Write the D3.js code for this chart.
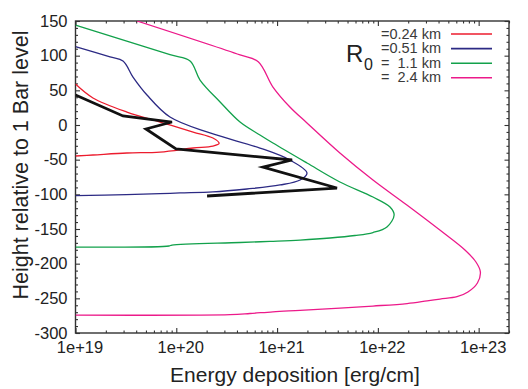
<!DOCTYPE html>
<html><head><meta charset="utf-8">
<script src="https://cdn.jsdelivr.net/npm/d3@7"></script>
<style>
body{margin:0;background:#fff}
svg{display:block}
text{font-family:"Liberation Sans",Arial,Helvetica,sans-serif}
</style>
</head><body>
<svg id="c" width="528" height="389"></svg>
<script>
// ---------- data ----------
const xTickValues = [1e19, 1e20, 1e21, 1e22, 1e23];
const xTickLabels = ["1e+19", "1e+20", "1e+21", "1e+22", "1e+23"];
const yTickValues = [150, 100, 50, 0, -50, -100, -150, -200, -250, -300];
const yTickLabels = ["150", "100", "50", "0", "-50", "-100", "-150", "-200", "-250", "-300"];
const legendLabels = ["=0.24 km", "=0.51 km", "=  1.1 km", "=  2.4 km"];

// R0 = 0.24 km
const r024E = [1e19, 1.49e19, 3.24e19, 6.9e19, 1.47e20, 2.31e20, 2.66e20, 2.31e20, 1.47e20, 6.9e19, 3.24e19, 1.49e19, 1e19];
const r024H = [59, 39, 18.7, 4.3, -10.1, -18.8, -26.5, -30.3, -33.2, -39, -40.4, -43.3, -44.7];
// R0 = 0.51 km
const r051E = [1e19, 2.2e19, 2.96e19, 3.72e19, 5.12e19, 8.66e19, 2.16e20, 6.76e20, 1.34e21, 1.98e21, 1.69e21, 1.07e21, 5.02e20, 2.31e20, 1.09e20, 6.89e19, 3.2e19, 1e19];
const r051H = [113, 98.1, 92.3, 69.2, 43.3, 11.5, -11.5, -33.2, -50.5, -69.2, -79.3, -86.5, -92.3, -96.6, -98, -99, -100.5, -102];
// R0 = 1.1 km
const r11E = [1e19, 8.66e19, 1.37e20, 1.72e20, 2.72e20, 4.29e20, 6.76e20, 9.1e20, 1.98e21, 4.2e21, 8.94e21, 1.32e22, 1.45e22, 1.23e22, 8.94e21, 5.92e21, 3.35e21, 1.69e21, 8.51e20, 4.29e20, 9.06e19, 8.48e19, 1e19];
const r11H = [144.2, 101.4, 92.3, 64.9, 33.2, 4.3, -14.4, -26, -54.8, -82.2, -103.9, -118.3, -129.8, -147.1, -155.1, -159.4, -163, -165.9, -167.8, -169.5, -173.1, -174.5, -176];
// R0 = 2.4 km
const r24E = [4.07e19, 4.29e20, 6.5e20, 9.1e20, 1.34e21, 1.98e21, 4.2e21, 8.94e21, 1.94e22, 4.12e22, 7.31e22, 9.4e22, 1.04e23, 9.72e22, 7.83e22, 6.1e22, 4.14e22, 3.08e22, 1.95e22, 8.94e21, 4.21e21, 1.69e21, 9.1e20, 5.38e20, 3.41e20, 1e19];
const r24H = [150, 101, 91.3, 54.8, 26, 2.9, -40.4, -79.3, -115.4, -151.5, -180.3, -197.6, -212, -227.9, -240.9, -247.7, -251, -253.6, -257.5, -261.1, -264, -267.3, -269.4, -271.9, -273.6, -274.2];
// observation (black)
const obsE = [1e19, 2.96e19, 9.06e19, 5.0e19, 9.93e19, 1.41e21, 7.24e20, 3.93e21, 2.02e20];
const obsH = [43.3, 13, 4.3, -5.8, -34.6, -50.5, -60.6, -90.9, -102.4];

// ---------- styles / layout ----------
const colors = ["#ec1c2e", "#2c2a84", "#12a14b", "#ec1a8a"];
const M = {left: 75.5, right: 509, top: 21, bottom: 333};

const svg = d3.select("#c");
const x = d3.scaleLog().domain([1e19, 2e23]).range([M.left, M.right]);
const y = d3.scaleLinear().domain([-300, 150]).range([M.bottom, M.top]);

svg.append("defs").append("clipPath").attr("id", "clip")
  .append("rect").attr("x", M.left).attr("y", M.top)
  .attr("width", M.right - M.left).attr("height", M.bottom - M.top);

// minor ticks
const minorX = [];
for (let d = 19; d <= 23; d++) for (let m = 2; m <= 9; m++) {
  const v = m * Math.pow(10, d);
  if (v <= 2.0001e23) minorX.push(v);
}
const minorY = d3.range(-300, 151, 10).filter(v => v % 50 !== 0);

function addAxis(gen, vals, size, tr, fmt, pad) {
  const g = svg.append("g").attr("transform", tr).attr("color", "#333")
    .call(gen.tickValues(vals).tickSize(size).tickPadding(pad || 3).tickFormat(fmt || (() => "")));
  g.select(".domain").remove();
  g.selectAll("line").attr("stroke-width", 1.1);
  g.attr("font-size", 16.5).attr("font-family", '"Liberation Sans",Arial,sans-serif');
  g.selectAll("text").attr("fill", "#222");
  return g;
}
// bottom
const gb = addAxis(d3.axisBottom(x), xTickValues, -5, `translate(0,${M.bottom})`, (d, i) => xTickLabels[i], 8.5);
gb.selectAll("text").attr("dx", 4);
addAxis(d3.axisBottom(x), minorX, -2.5, `translate(0,${M.bottom})`);
// top
addAxis(d3.axisTop(x), xTickValues, -5, `translate(0,${M.top})`);
addAxis(d3.axisTop(x), minorX, -2.5, `translate(0,${M.top})`);
// left
addAxis(d3.axisLeft(y), yTickValues, -4.5, `translate(${M.left},0)`, (d, i) => yTickLabels[i], 8);
addAxis(d3.axisLeft(y), minorY, -2.5, `translate(${M.left},0)`);
// right
addAxis(d3.axisRight(y), yTickValues, -4.5, `translate(${M.right},0)`);
addAxis(d3.axisRight(y), minorY, -2.5, `translate(${M.right},0)`);

// frame
svg.append("rect").attr("x", M.left).attr("y", M.top)
  .attr("width", M.right - M.left).attr("height", M.bottom - M.top)
  .attr("fill", "none").attr("stroke", "#333").attr("stroke-width", 1.4);

// curves
const seriesE = [r024E, r051E, r11E, r24E];
const seriesH = [r024H, r051H, r11H, r24H];
const curveLine = d3.line().x(d => x(d[0])).y(d => y(d[1])).curve(d3.curveCatmullRom.alpha(0.5));
const plot = svg.append("g").attr("clip-path", "url(#clip)");
seriesE.forEach((E, i) => {
  const pts = E.map((e, j) => [e, seriesH[i][j]]);
  plot.append("path").attr("d", curveLine(pts))
    .attr("fill", "none").attr("stroke", colors[i]).attr("stroke-width", 1.3);
});
const obsLine = d3.line().x(d => x(d[0])).y(d => y(d[1]));
plot.append("path").attr("d", obsLine(obsE.map((e, j) => [e, obsH[j]])))
  .attr("fill", "none").attr("stroke", "#111").attr("stroke-width", 2.8)
  .attr("stroke-linejoin", "miter");

// legend
const leg = svg.append("g");
legendLabels.forEach((t, i) => {
  const yy = 34 + i * 14.6;
  leg.append("text").attr("x", 381).attr("y", yy + 4.6)
    .attr("font-size", 14.5).attr("fill", "#3a3a3a")
    .attr("xml:space", "preserve").style("white-space", "pre").text(t);
  leg.append("line").attr("x1", 451).attr("x2", 492).attr("y1", yy).attr("y2", yy)
    .attr("stroke", colors[i]).attr("stroke-width", 1.6);
});
leg.append("text").attr("x", 346).attr("y", 62).attr("font-size", 24).attr("fill", "#222").text("R");
leg.append("text").attr("x", 364).attr("y", 70).attr("font-size", 16).attr("fill", "#222").text("0");

// titles
svg.append("text").attr("x", 295).attr("y", 381.5).attr("text-anchor", "middle")
  .attr("font-size", 21).attr("fill", "#222").text("Energy deposition [erg/cm]");
svg.append("text").attr("transform", "translate(27.5,165) rotate(-90)").attr("text-anchor", "middle")
  .attr("font-size", 21.5).attr("fill", "#222").text("Height relative to 1 Bar level");
</script>
</body></html>
